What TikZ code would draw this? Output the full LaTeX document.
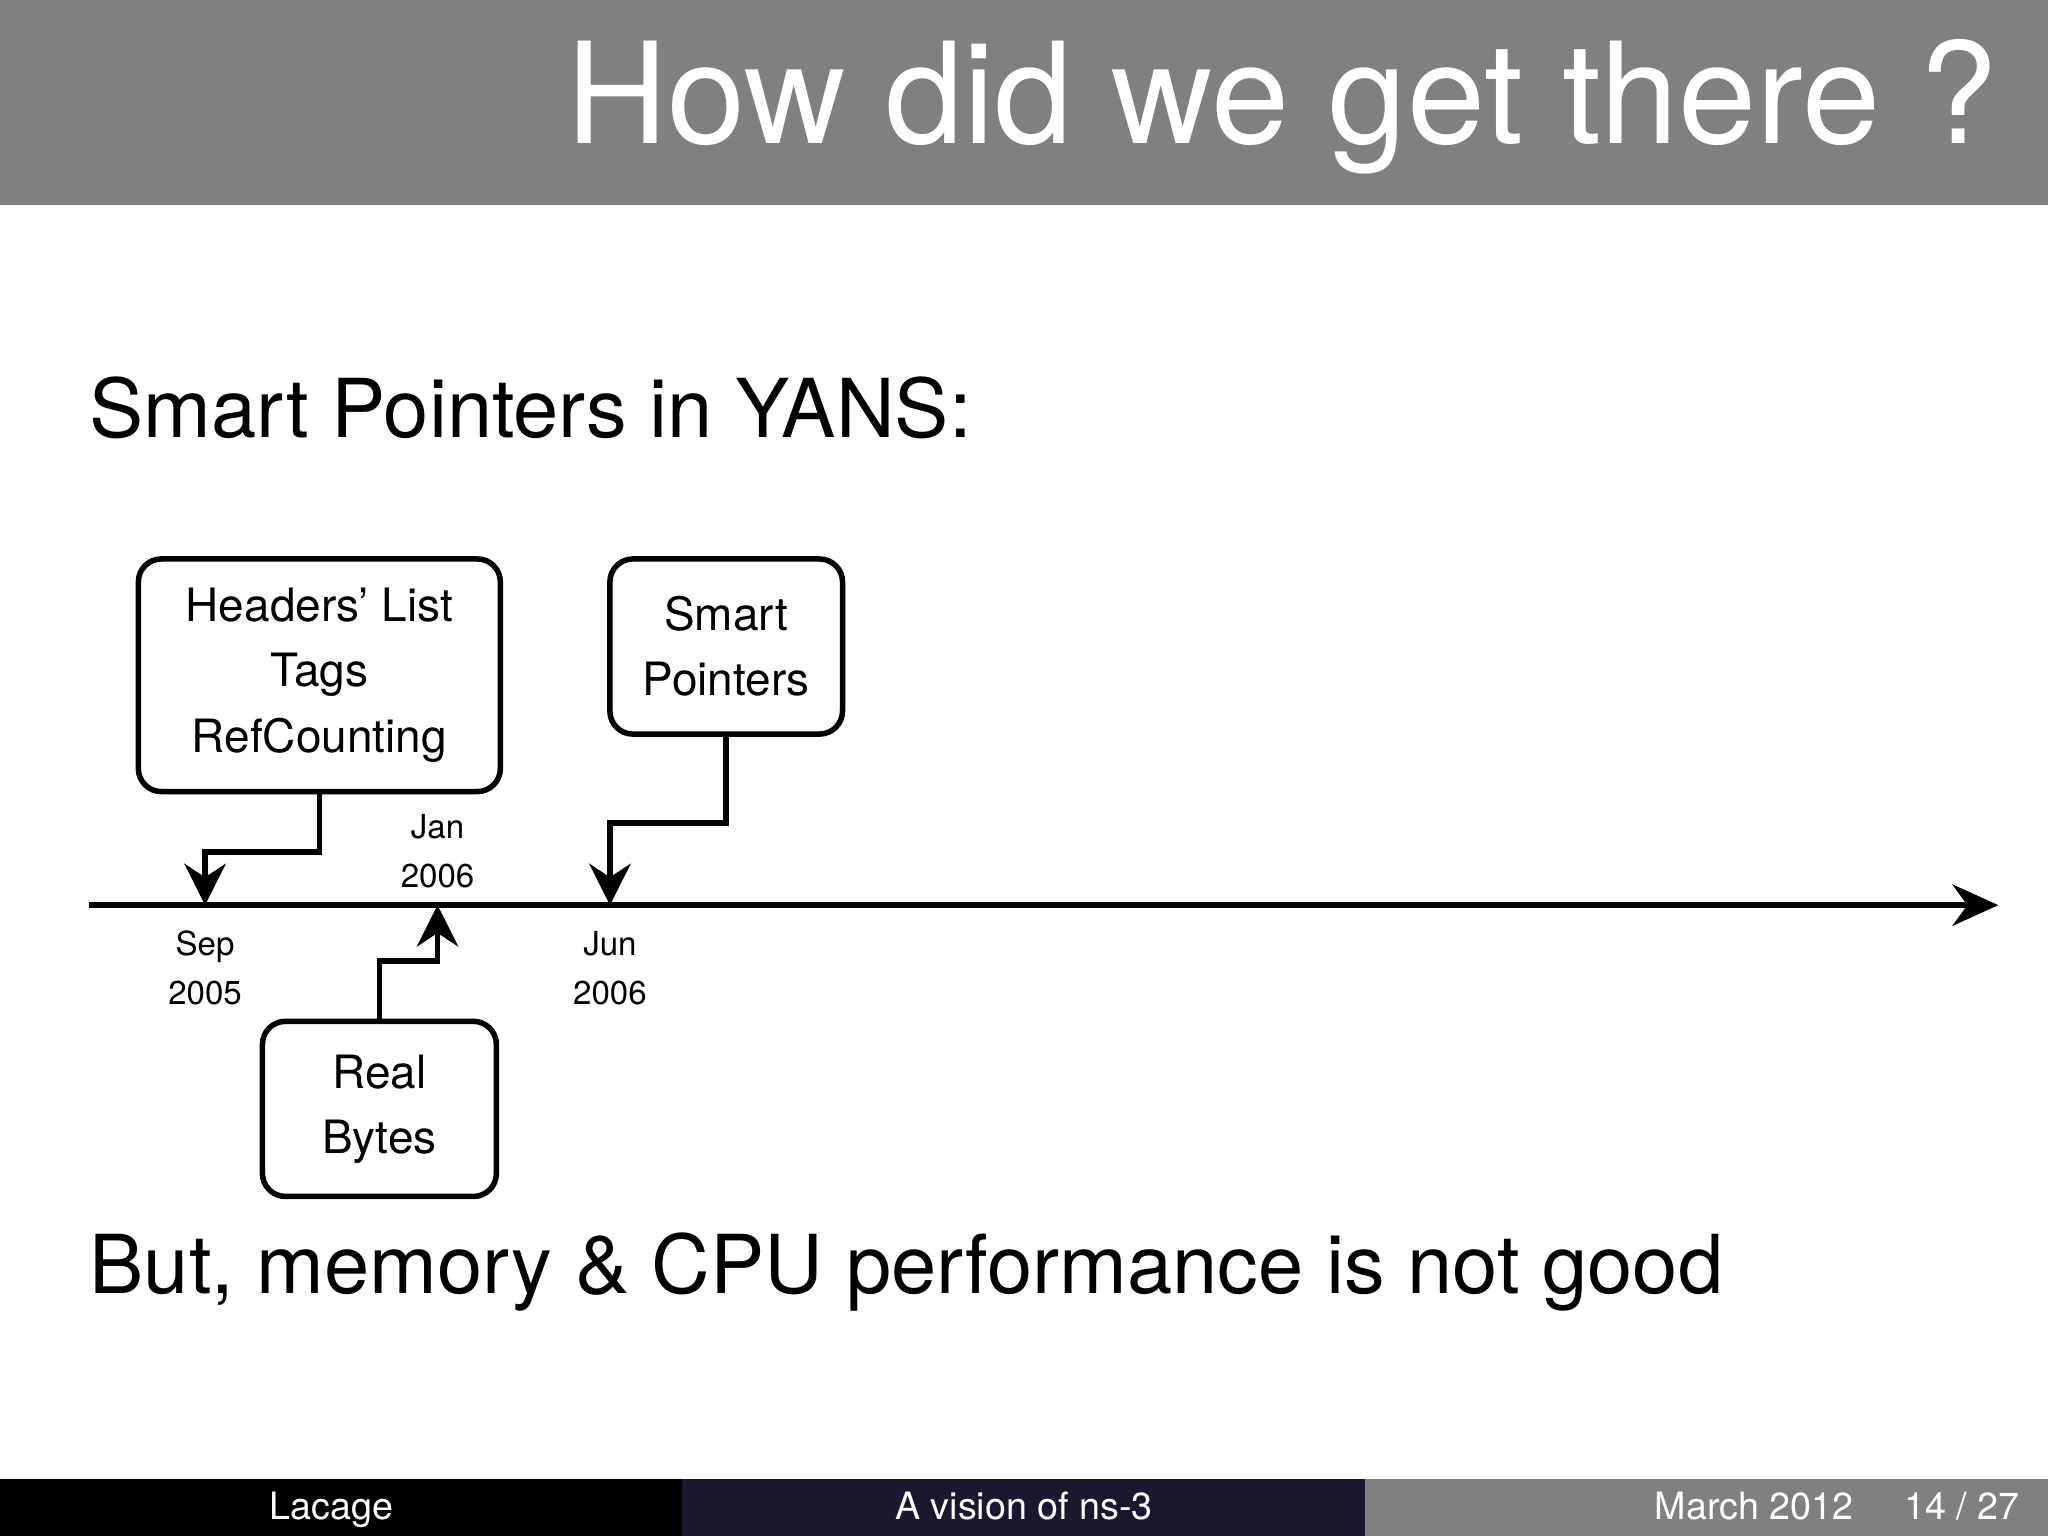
\documentclass[tikz,border=0pt]{standalone}
\usepackage{fontspec}
\setmainfont{TeX Gyre Heros}
\usetikzlibrary{arrows.meta}
\begin{document}
\begin{tikzpicture}[x=0.01cm,y=-0.01cm,
  box/.style={draw,line width=1.2pt,rounded corners=5pt,align=center,font=\fontsize{10}{14.2}\selectfont,inner sep=0pt},
  conn/.style={line width=1.2pt,-{Stealth[length=9pt,width=9pt]}},
  date/.style={align=center,font=\fontsize{7.2}{10.7}\selectfont}]
\useasboundingbox (0,0) rectangle (1568,1176);
\fill[color={rgb,255:red,128;green,128;blue,128}] (0,0) rectangle (1568,157);
\node[anchor=base east,text=white,font=\fontsize{30.6}{36}\selectfont,inner sep=0pt] (title) at (1530,110) {How did we get there ?};
\node[anchor=base west,font=\fontsize{17.7}{22}\selectfont,inner sep=0pt] (s1) at (68,335) {Smart Pointers in YANS:};
\node[anchor=base west,font=\fontsize{17.7}{22}\selectfont,inner sep=0pt] (s2) at (68,990) {But, memory \& CPU performance is not good};
\node[box,minimum width=2.77cm,minimum height=1.78cm] (hdr) at (244.5,517) {Headers' List\\Tags\\RefCounting};
\node[box,minimum width=1.78cm,minimum height=1.34cm] (sp) at (556,495) {Smart\\Pointers};
\node[box,minimum width=1.79cm,minimum height=1.34cm] (rb) at (290.5,849) {Real\\Bytes};
\coordinate (t0) at (68,693);
\coordinate (t1) at (1530,693);
\coordinate (a) at (157,693);
\coordinate (b) at (335,693);
\coordinate (c) at (467,693);
\draw[line width=1.2pt,-{Stealth[length=10pt,width=9pt]}] (t0) -- (t1);
\draw[conn] (hdr.south) -- ++(0,44) -| (a);
\draw[conn] (sp.south) -- ++(0,66) -| (c);
\draw[conn] (rb.north) -- ++(0,-44) -| (b);
\node[date] (d1) at (157,741) {Sep\\2005};
\node[date] (d2) at (335,652) {Jan\\2006};
\node[date] (d3) at (467,741) {Jun\\2006};
\fill[black] (0,1132) rectangle (522,1176);
\fill[color={rgb,255:red,24;green,24;blue,48}] (522,1132) rectangle (1045,1176);
\fill[color={rgb,255:red,128;green,128;blue,128}] (1045,1132) rectangle (1568,1176);
\begin{scope}[every node/.style={text=white,font=\fontsize{8.2}{10}\selectfont,anchor=base,inner sep=0pt}]
\node (f1) at (254,1163) {Lacage};
\node (f2) at (784,1163) {A vision of ns-3};
\node (f3) at (1343,1163) {March 2012};
\node (f4) at (1502,1163) {14 / 27};
\end{scope}
\end{tikzpicture}
\end{document}
